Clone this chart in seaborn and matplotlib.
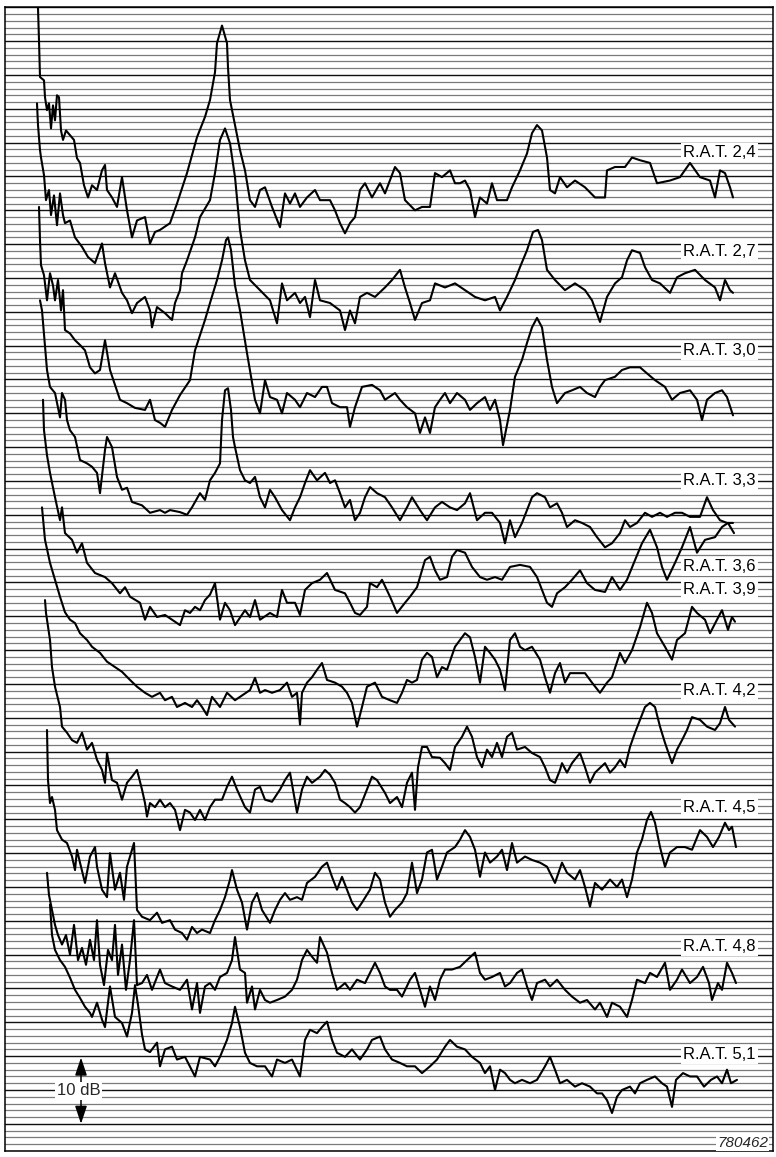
import matplotlib
matplotlib.use("Agg")
import matplotlib.pyplot as plt
import pandas as pd
import seaborn as sns

sns.set_theme(style="white")
plt.rcParams['font.family'] = ['Liberation Sans', 'DejaVu Sans']

# Spectra: (frequency position, level in dB below the top line of the chart paper)
rat_24 = [(38,0.1),(39,4.9),(40,10.3),(44,10.8),(45,13.3),(47,15.2),(49,14.2),(51,17.9),(53,14.5),(55,16.7),
          (57,13.0),(59,13.3),(61,18.2),(63,19.6),(66,18.2),(70,18.9),(74,19.6),(77,22.3),(80,23.0),(84,26.3),
          (88,28.1),(92,26.3),(97,27.0),(102,24.1),(105,23.3),(107,27.0),(112,28.1),(117,29.5),(122,25.1),(127,30.0),
          (132,34.0),(137,31.5),(145,31.0),(150,34.9),(155,33.2),(160,32.9),(170,31.9),(177,29.0),(187,24.5),(197,19.2),
          (205,16.2),(210,13.7),(215,9.6),(217,5.3),(222,2.7),(227,5.3),(228,8.9),(230,13.7),(235,17.4),(240,21.1),
          (245,24.1),(250,28.5),(255,29.5),(260,27.0),(265,26.6),(272,29.5),(280,32.5),(285,27.5),(290,29.0),(295,27.5),
          (300,29.5),(307,28.1),(315,27.0),(320,28.5),(330,28.5),(335,30.0),(340,31.9),(345,33.4),(350,31.9),(355,31.0),
          (360,27.0),(365,26.0),(372,28.1),(380,26.0),(385,27.5),(395,23.6),(400,24.5),(405,28.5),(415,30.0),(422,29.5),
          (430,29.5),(435,24.5),(442,25.1),(450,24.1),(455,26.0),(460,26.0),(465,25.6),(470,27.0),(475,31.0),(480,28.1),
          (487,29.0),(492,26.0),(497,28.5),(507,28.5),(512,26.6),(520,24.1),(527,21.6),(532,18.6),(537,17.4),(542,18.2),
          (547,22.2),(550,27.0),(555,27.5),(560,25.1),(567,26.6),(575,25.6),(585,26.6),(595,28.1),(605,28.1),(607,24.1),
          (615,23.6),(625,23.6),(632,22.2),(640,22.6),(650,23.0),(657,26.0),(670,25.6),(680,25.1),(690,23.0),(700,25.1),
          (710,25.6),(715,28.1),(720,24.1),(725,24.5),(730,26.6),(733,28.1)]

rat_27 = [(37,14.2),(38,17.4),(40,21.1),(41,22.2),(44,24.8),(46,28.5),(49,27.0),(51,30.7),(54,27.8),(57,32.2),
          (60,27.5),(63,30.7),(65,31.9),(70,31.5),(75,34.0),(82,35.4),(88,36.9),(95,37.8),(102,34.9),(105,37.8),
          (110,41.4),(115,39.3),(122,42.2),(127,43.3),(132,45.2),(137,43.7),(145,42.8),(150,44.8),(152,47.3),(157,44.3),
          (165,45.2),(172,46.2),(175,43.7),(180,41.8),(182,39.3),(187,37.4),(195,34.0),(200,31.0),(210,28.5),(215,24.5),
          (220,19.6),(225,17.9),(230,20.1),(235,25.1),(240,32.9),(245,37.4),(250,40.3),(260,41.8),(270,43.3),(277,46.7),
          (282,40.8),(287,43.3),(295,42.2),(300,43.7),(305,42.8),(310,45.8),(315,40.3),(320,43.3),(330,43.7),(340,44.8),
          (345,47.7),(350,44.8),(355,46.7),(360,42.8),(367,42.2),(375,42.8),(385,41.4),(392,40.3),(400,38.8),(405,41.4),
          (410,43.7),(415,46.2),(422,43.7),(430,43.3),(435,40.8),(445,41.4),(455,40.8),(465,41.8),(475,42.8),(485,43.3),
          (495,42.8),(500,44.8),(507,42.8),(515,40.3),(520,38.4),(527,35.9),(533,33.2),(538,32.9),(542,34.4),(547,38.8),
          (555,40.3),(565,41.8),(575,40.8),(585,41.8),(592,43.3),(600,46.5),(607,42.8),(615,40.8),(622,39.9),(627,37.4),
          (632,35.9),(640,36.3),(645,38.4),(652,40.3),(660,40.8),(670,42.2),(677,39.9),(685,39.3),(695,38.8),(705,40.3),
          (715,41.4),(720,43.3),(725,40.3),(730,41.8),(733,42.2)]

rat_30 = [(39,29.5),(40,34.4),(41,38.1),(44,39.6),(47,43.3),(50,39.3),(53,41.1),(55,43.3),(58,40.3),(61,44.8),
          (63,41.8),(65,47.7),(70,48.2),(75,49.2),(80,49.9),(85,50.7),(90,53.2),(95,54.1),(100,53.6),(105,49.2),
          (110,53.6),(115,55.8),(120,58.0),(127,58.5),(135,59.2),(145,59.5),(150,58.0),(155,61.0),(160,61.4),(165,62.0),
          (172,59.5),(180,57.3),(190,55.1),(195,50.7),(205,46.2),(210,43.7),(217,40.3),(222,37.4),(226,34.4),(228,34.0),
          (231,35.9),(235,41.1),(240,44.8),(247,51.1),(255,58.0),(260,60.0),(265,55.1),(270,57.6),(277,58.0),(282,60.0),
          (287,57.0),(295,58.0),(300,59.1),(307,57.0),(315,57.6),(322,56.1),(327,56.1),(332,58.5),(340,59.1),(347,59.1),
          (350,62.0),(355,59.1),(362,56.1),(372,55.8),(380,56.6),(385,58.0),(395,57.0),(400,58.0),(407,59.1),(415,60.0),
          (420,62.9),(425,60.6),(430,62.9),(435,59.1),(440,58.0),(445,57.0),(450,58.5),(457,57.0),(465,58.0),(470,59.5),
          (477,58.5),(485,57.6),(490,59.5),(495,58.0),(500,61.0),(503,64.7),(510,59.5),(515,54.6),(522,52.1),(527,49.6),
          (532,47.3),(537,45.9),(542,47.3),(547,52.1),(552,56.1),(557,58.5),(565,57.0),(572,56.6),(580,56.1),(587,57.0),
          (595,57.6),(600,56.1),(605,55.1),(615,54.6),(622,53.6),(630,53.2),(640,53.2),(647,54.1),(655,55.1),(665,56.1),
          (672,58.0),(680,57.0),(690,56.6),(697,58.0),(702,61.0),(707,58.0),(715,57.0),(722,56.6),(727,57.6),(733,60.3)]

rat_33 = [(40,43.3),(42,44.8),(47,53.6),(50,56.1),(55,57.0),(60,60.6),(62,57.0),(65,58.0),(67,61.0),(70,62.5),
          (75,63.5),(80,66.9),(87,67.4),(92,67.9),(97,68.8),(100,71.8),(105,65.4),(107,63.5),(112,65.0),(117,69.4),
          (122,71.3),(127,71.0),(132,73.1),(142,73.6),(150,74.7),(160,74.3),(165,74.7),(170,74.3),(180,74.6),(187,75.0),
          (192,73.9),(200,71.8),(205,72.8),(210,69.9),(215,68.8),(220,67.4),(222,61.0),(225,56.6),(228,56.3),(231,59.5),
          (233,63.5),(235,65.0),(240,68.4),(245,69.9),(250,70.3),(255,69.4),(260,72.4),(265,73.9),(270,71.3),(275,72.4),
          (282,74.3),(290,75.8),(295,73.9),(300,72.4),(305,70.3),(310,68.4),(317,69.9),(325,68.8),(330,70.3),(335,69.9),
          (340,71.8),(345,73.9),(350,72.8),(355,75.8),(360,74.7),(365,72.4),(370,70.9),(377,71.8),(385,72.4),(392,73.9),
          (400,75.8),(407,73.9),(412,72.4),(420,74.3),(427,75.8),(435,73.9),(442,73.1),(450,73.9),(457,74.3),(465,73.3),
          (470,71.8),(477,75.8),(485,74.7),(492,74.7),(500,76.2),(505,79.2),(510,75.8),(515,78.3),(522,76.2),(527,74.3),
          (532,72.4),(537,71.8),(545,72.4),(550,73.9),(557,73.3),(562,74.7),(567,76.8),(575,75.8),(582,76.2),(590,76.8),
          (597,78.3),(605,79.8),(612,79.2),(620,77.7),(625,75.8),(630,76.8),(637,76.2),(645,74.7),(652,75.3),(660,74.7),
          (667,75.3),(675,74.7),(682,74.7),(690,75.3),(700,75.3),(707,72.4),(713,74.3),(720,75.8),(727,76.2),(733,76.2)]

rat_36 = [(43,58.0),(44,62.5),(47,66.2),(50,68.8),(55,72.4),(60,75.8),(62,73.9),(65,77.7),(72,78.7),(77,80.6),
          (82,79.2),(87,82.1),(95,83.6),(105,84.2),(112,85.1),(120,86.6),(125,85.7),(130,87.1),(140,88.0),(145,90.5),
          (150,88.6),(157,90.1),(165,89.8),(172,90.5),(180,91.3),(185,89.1),(190,89.5),(195,88.6),(200,89.1),(205,87.6),
          (210,86.8),(215,85.1),(220,90.5),(225,88.0),(230,89.1),(235,91.3),(245,89.1),(250,90.1),(255,87.6),(260,90.5),
          (270,89.5),(277,90.1),(282,86.1),(287,88.0),(295,88.0),(300,89.8),(305,86.1),(312,85.1),(320,84.6),(327,83.6),
          (335,86.1),(345,86.6),(350,88.0),(355,89.5),(360,89.8),(367,88.6),(370,85.1),(377,85.7),(382,84.6),(390,87.1),
          (397,89.5),(405,88.0),(410,87.1),(417,85.7),(425,81.7),(430,81.2),(435,83.2),(440,84.6),(447,84.2),(452,81.2),
          (457,80.2),(465,80.6),(472,82.7),(480,84.2),(487,84.6),(495,84.2),(502,84.6),(510,82.7),(520,82.4),(530,82.7),
          (537,84.2),(542,86.1),(547,88.0),(552,88.6),(557,86.6),(565,85.7),(572,84.6),(580,83.2),(587,85.1),(595,86.1),
          (605,86.4),(612,84.2),(620,86.1),(627,84.6),(635,81.7),(642,79.2),(650,77.2),(657,79.8),(662,82.7),(667,84.6),
          (675,82.1),(682,79.8),(690,76.8),(697,80.6),(705,78.7),(715,78.3),(722,76.8),(728,76.2),(734,77.7)]

rat_39 = [(42,73.9),(45,78.7),(50,82.1),(55,84.6),(60,87.1),(65,89.4),(70,90.5),(75,91.0),(80,92.5),(87,93.5),
          (92,94.5),(100,95.4),(107,96.7),(115,97.5),(122,98.2),(130,99.4),(137,100.4),(145,101.3),(152,101.9),(160,101.3),
          (165,102.4),(172,101.9),(177,103.4),(185,102.8),(192,103.4),(197,102.4),(202,103.4),(207,104.6),(212,101.9),(220,103.4),
          (227,101.3),(235,102.4),(240,101.9),(250,100.9),(255,99.1),(260,101.3),(265,100.9),(272,101.3),(280,100.9),(287,99.8),
          (292,101.9),(297,101.3),(300,106.0),(302,101.3),(307,99.8),(312,99.0),(317,97.9),(322,96.9),(327,99.4),(335,99.8),
          (342,100.4),(347,101.3),(352,102.8),(357,106.3),(362,103.4),(367,100.4),(375,99.8),(382,101.9),(390,102.4),(397,102.8),
          (402,101.3),(407,99.4),(412,99.8),(417,99.4),(422,96.4),(427,95.4),(432,96.0),(437,99.0),(442,97.5),(447,97.9),
          (455,94.5),(460,93.5),(465,92.5),(470,93.1),(475,96.0),(480,99.8),(485,94.5),(490,95.4),(495,96.4),(500,97.9),
          (505,100.9),(510,93.5),(515,92.5),(520,94.5),(525,95.0),(532,94.5),(540,96.4),(545,99.0),(550,101.3),(555,98.4),
          (560,96.9),(565,99.8),(570,98.4),(577,98.4),(585,98.4),(592,99.8),(600,101.3),(607,99.8),(612,99.0),(620,95.4),
          (625,96.9),(632,95.0),(640,91.6),(647,88.0),(652,89.5),(657,92.5),(665,94.5),(672,96.4),(677,93.5),(685,92.5),
          (692,88.6),(697,89.5),(705,90.5),(710,92.5),(717,90.5),(722,89.1),(728,92.0),(732,90.1),(735,90.8)]

rat_42 = [(45,87.6),(46,89.5),(50,93.5),(52,97.5),(55,100.4),(60,103.4),(62,106.3),(67,107.2),(72,108.3),(77,108.7),
          (82,107.2),(87,109.7),(92,108.7),(97,111.2),(102,112.7),(105,114.6),(107,110.2),(112,114.2),(117,114.6),(122,117.1),
          (127,114.6),(132,113.7),(137,112.7),(142,115.6),(145,117.6),(147,119.6),(150,117.6),(155,118.2),(160,117.1),(165,118.2),
          (170,117.6),(175,118.6),(180,121.6),(185,118.6),(190,119.0),(195,120.1),(200,118.6),(205,120.1),(210,118.2),(215,117.1),
          (222,117.1),(227,115.2),(232,113.7),(237,115.6),(245,118.2),(250,119.0),(255,115.6),(260,115.2),(265,117.1),(272,117.4),
          (280,115.6),(285,114.2),(290,113.1),(297,119.0),(302,115.6),(307,113.7),(312,114.6),(320,113.7),(325,112.7),(330,113.4),
          (335,114.6),(340,117.1),(345,117.6),(350,118.2),(355,119.0),(360,118.2),(367,115.6),(372,113.7),(377,114.2),(385,116.1),
          (390,117.6),(397,116.7),(402,118.2),(407,114.6),(412,113.1),(415,118.6),(418,112.3),(422,109.3),(427,109.3),(432,110.8),
          (440,110.9),(445,111.7),(450,112.7),(455,109.3),(462,107.8),(467,106.3),(472,107.8),(477,110.8),(482,112.3),(487,109.7),
          (492,110.8),(497,108.7),(502,110.8),(507,107.8),(512,107.2),(517,109.7),(525,109.3),(532,110.2),(540,110.8),(545,112.3),
          (550,114.2),(555,114.6),(560,112.7),(562,111.7),(567,113.1),(572,111.7),(580,110.2),(585,112.3),(590,114.6),(595,113.1),
          (605,111.7),(610,113.1),(615,112.3),(620,111.2),(625,112.3),(630,109.3),(635,107.2),(640,105.3),(645,103.4),(650,102.8),
          (655,103.4),(660,106.3),(665,108.7),(672,111.7),(677,109.7),(682,108.3),(687,106.8),(692,104.9),(700,105.3),(707,106.3),
          (715,106.8),(720,105.8),(725,103.4),(729,105.3),(732,105.8),(735,106.3)]

rat_45 = [(47,106.8),(48,114.2),(50,117.6),(52,116.7),(55,118.6),(57,121.6),(62,123.0),(67,123.5),(72,125.5),(75,127.5),
          (77,124.5),(80,126.4),(85,129.4),(90,125.5),(95,124.1),(97,127.0),(102,130.4),(107,131.5),(110,125.0),(115,130.4),
          (120,127.9),(124,131.9),(127,127.0),(131,125.0),(134,123.5),(137,133.4),(142,134.4),(150,134.9),(157,133.8),(162,135.3),
          (170,134.9),(175,136.3),(182,136.8),(187,137.8),(192,135.9),(197,136.8),(202,136.3),(210,136.8),(215,134.9),(220,133.4),
          (225,131.5),(230,128.9),(232,127.5),(237,130.4),(242,132.3),(247,136.3),(252,132.3),(257,130.9),(262,133.4),(270,135.3),
          (275,133.4),(280,131.9),(285,130.9),(290,131.9),(297,131.5),(302,131.9),(307,129.4),(315,128.5),(322,127.0),(327,126.4),
          (332,128.5),(337,130.4),(342,128.5),(347,130.4),(352,132.3),(357,133.4),(362,132.3),(370,130.4),(375,127.9),(380,128.9),
          (385,132.3),(390,134.4),(395,133.4),(402,132.3),(407,130.9),(412,126.4),(417,130.9),(422,128.9),(427,124.9),(432,124.5),
          (437,128.9),(442,127.0),(447,124.9),(455,124.1),(460,123.0),(465,121.6),(470,122.6),(475,124.5),(480,128.5),(485,124.9),
          (490,126.4),(497,125.5),(502,124.5),(507,127.5),(512,123.5),(517,126.4),(525,125.5),(532,126.0),(540,126.4),(547,127.0),
          (555,129.4),(562,126.4),(567,127.9),(575,128.9),(580,127.5),(585,130.0),(590,132.9),(595,129.4),(602,130.4),(610,128.9),
          (617,130.0),(622,128.9),(627,131.5),(632,128.9),(637,124.9),(642,123.0),(647,120.1),(651,118.9),(655,120.5),(660,124.1),
          (665,127.0),(670,124.9),(677,124.1),(685,124.1),(692,124.5),(700,121.6),(707,122.6),(713,124.1),(719,122.6),(725,120.5),
          (729,121.6),(732,121.1),(736,124.1)]

rat_48 = [(47,127.9),(49,131.2),(52,133.4),(55,135.6),(58,137.1),(62,138.5),(66,137.1),(70,140.0),(74,135.6),(78,140.8),
          (82,139.0),(86,141.5),(90,137.8),(94,140.8),(97,134.9),(100,141.5),(104,144.5),(108,139.3),(112,140.8),(115,135.6),
          (118,143.0),(122,138.5),(126,145.2),(130,140.8),(134,134.9),(137,144.5),(142,144.2),(147,143.0),(152,145.2),(160,142.2),
          (165,144.2),(172,144.7),(180,145.2),(187,143.7),(192,148.1),(197,144.2),(200,148.6),(205,144.7),(210,144.2),(215,145.2),
          (220,143.3),(227,142.7),(232,140.8),(235,137.4),(240,142.2),(245,142.7),(247,147.1),(252,144.7),(255,148.1),(260,145.2),
          (265,146.7),(270,147.1),(277,146.7),(285,146.2),(292,145.2),(297,143.7),(302,140.8),(307,139.3),(312,140.3),(317,141.2),
          (320,137.4),(327,139.7),(332,142.7),(337,145.2),(345,144.2),(350,145.2),(357,143.7),(365,144.2),(370,142.7),(375,141.2),
          (380,142.7),(385,144.7),(390,145.2),(397,145.2),(402,146.2),(410,143.7),(415,142.7),(420,145.2),(425,147.7),(430,144.7),
          (435,146.7),(440,143.7),(445,142.2),(452,142.2),(460,141.8),(467,140.8),(475,139.7),(480,142.7),(485,143.7),(492,143.3),
          (500,142.7),(505,144.7),(510,144.2),(517,142.7),(522,142.2),(527,144.7),(532,146.7),(537,144.2),(545,143.7),(550,144.7),
          (557,143.7),(565,145.2),(572,146.2),(580,147.1),(587,146.7),(595,148.1),(600,147.1),(607,149.2),(612,147.1),(620,147.7),
          (627,149.2),(632,146.7),(637,143.7),(645,144.2),(650,142.7),(657,143.3),(665,141.2),(670,145.2),(677,143.7),(682,142.2),
          (690,144.2),(697,143.3),(703,141.8),(709,144.2),(712,146.7),(718,144.2),(722,145.2),(727,141.2),(732,142.7),(736,144.2)]

rat_51 = [(50,132.6),(52,137.1),(55,139.3),(60,140.8),(65,141.8),(70,143.4),(75,145.2),(80,146.4),(85,147.7),(90,148.6),
          (92,149.2),(97,147.1),(102,149.6),(105,150.7),(110,144.7),(115,149.2),(122,150.1),(127,152.1),(132,148.6),(135,144.5),
          (138,147.4),(142,151.8),(145,154.0),(150,154.4),(157,153.0),(160,156.5),(165,154.0),(172,153.6),(177,155.5),(185,155.1),
          (195,158.0),(200,155.1),(210,155.5),(215,156.5),(220,155.1),(227,152.6),(232,150.1),(235,147.7),(240,150.7),(245,154.5),
          (250,156.0),(257,156.5),(265,156.5),(272,158.0),(277,155.5),(285,156.0),(292,155.5),(300,158.0),(305,152.6),(310,151.1),
          (317,151.6),(322,150.7),(327,149.9),(332,152.6),(337,154.5),(345,155.1),(352,154.0),(360,155.5),(367,154.0),(372,152.6),
          (380,152.1),(385,154.0),(392,155.5),(400,156.0),(407,156.5),(415,156.5),(422,157.5),(430,156.5),(437,155.5),(445,153.6),
          (450,152.6),(457,153.6),(465,154.0),(472,155.1),(480,156.0),(485,157.5),(490,156.5),(495,160.0),(500,157.0),(505,157.5),
          (510,158.5),(515,159.0),(522,158.5),(530,159.0),(537,158.5),(545,156.5),(550,155.1),(555,157.0),(560,159.0),(567,158.5),
          (575,159.5),(582,159.0),(590,159.5),(597,160.5),(602,160.5),(607,161.5),(612,163.4),(617,161.0),(622,160.0),(630,159.5),
          (635,160.5),(640,159.0),(647,158.5),(655,158.0),(662,159.0),(667,159.5),(672,162.5),(676,158.5),(683,157.5),(690,158.0),
          (697,158.0),(704,159.5),(711,158.5),(717,158.0),(722,159.0),(727,157.0),(731,159.0),(737,158.5)]

traces = [rat_24, rat_27, rat_30, rat_33, rat_36, rat_39, rat_42, rat_45, rat_48, rat_51]
labels = ["R.A.T. 2,4", "R.A.T. 2,7", "R.A.T. 3,0", "R.A.T. 3,3", "R.A.T. 3,6",
          "R.A.T. 3,9", "R.A.T. 4,2", "R.A.T. 4,5", "R.A.T. 4,8", "R.A.T. 5,1"]
label_levels = [21.4, 36.1, 50.7, 69.9, 82.7, 86.1, 100.9, 118.3, 138.8, 154.8]

n_divisions = 169          # 1 dB per ruled line
scale_bar = (155.2, 165.0)  # 10 dB reference marker
scale_x = 81

fig = plt.figure(figsize=(7.76, 11.57), dpi=100, facecolor="white")
ax = fig.add_axes([5 / 776, 1 - 1150.9 / 1157, 768 / 776, (1150.9 - 7.3) / 1157])
ax.set_facecolor("white")

# ruled chart paper: every 5th line heavier
for k in range(n_divisions + 1):
    if k % 5 == 0:
        ax.axhline(k, color="#111111", lw=1.0, zorder=1)
    else:
        ax.axhline(k, color="#7a7a7a", lw=0.9, zorder=1)

for pts in traces:
    df = pd.DataFrame(pts, columns=["freq", "level"])
    sns.lineplot(data=df, x="freq", y="level", sort=False, estimator=None,
                 color="black", lw=1.5, ax=ax, zorder=3)

ax.set_xlim(5, 773)
ax.set_ylim(n_divisions, 0)
ax.set_xticks([])
ax.set_yticks([])
ax.set_xlabel("")
ax.set_ylabel("")
for s in ax.spines.values():
    s.set_visible(True)
    s.set_color("black")
    s.set_linewidth(1.1)

for lbl, lev in zip(labels, label_levels):
    ax.text(683, lev, lbl, ha="left", va="center", fontsize=12, color="black",
            bbox=dict(facecolor="white", edgecolor="none", pad=1.5), zorder=5)

ax.annotate("", xy=(scale_x, scale_bar[0]), xytext=(scale_x, scale_bar[1]),
            arrowprops=dict(arrowstyle="<|-|>,head_length=0.9,head_width=0.3",
                            color="black", lw=1.1, shrinkA=0, shrinkB=0),
            zorder=4)
ax.text(78.5, (scale_bar[0] + scale_bar[1]) / 2, "10 dB", ha="center", va="center",
        fontsize=12, bbox=dict(facecolor="white", edgecolor="none", pad=1.2), zorder=5)

ax.text(768, 167.8, "780462", ha="right", va="center", fontsize=11, style="italic",
        bbox=dict(facecolor="white", edgecolor="none", pad=1.0), zorder=5)

fig.savefig("out.png", dpi=100, facecolor="white")
